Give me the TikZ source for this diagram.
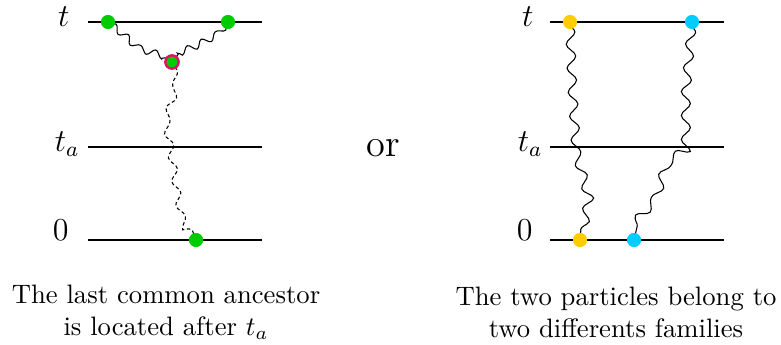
\documentclass[tikz,border=0pt]{standalone}
\usepackage{amsmath,amssymb}
\usepackage{xcolor}
\usepackage{tikz}
\usetikzlibrary{positioning,backgrounds,decorations.pathmorphing}
\definecolor{DOTgreen}{HTML}{00CC00}
\definecolor{DOTyellow}{HTML}{FFCC00}
\definecolor{DOTcyan}{HTML}{00CCFF}
\definecolor{RINGred}{HTML}{DC1464}

\begin{document}
\begin{tikzpicture}[x=0.375pt,y=-0.375pt,
    level/.style={line width=0.75pt},
    lab/.style={anchor=base east,font=\large,inner sep=0pt},
    dot/.style={circle,inner sep=0pt,minimum size=5.3pt},
    gdot/.style={dot,fill=DOTgreen},
    ydot/.style={dot,fill=DOTyellow},
    cdot/.style={dot,fill=DOTcyan},
    anc/.style={circle,inner sep=0pt,minimum size=5pt,fill=DOTgreen,
                draw=RINGred,line width=0.9pt},
    wig/.style={thin,decorate,
                decoration={snake,segment length=6pt,amplitude=1.3pt,
                            pre length=1pt,post length=1pt}},
    longwig/.style={wig,decoration={segment length=9pt,amplitude=1.7pt}},
    dwig/.style={wig,dash pattern=on 1.3pt off 1pt,
                 decoration={segment length=9pt,amplitude=1.4pt,post length=3pt}},
    captxt/.style={align=center,font=\normalsize},
  ]
  \useasboundingbox (0,0) rectangle (781,345);

  % left panel
  \node[lab] (lt)  at (70,27)  {$t$};
  \node[lab] (lta) at (80,152) {$t_a$};
  \node[lab] (l0)  at (69,241) {$0$};
  \node[gdot] (g1) at (108,22) {};
  \node[gdot] (g2) at (228,22) {};
  \node[anc]  (ga) at (172,62) {};
  \node[gdot] (g0) at (196,240) {};

  % right panel
  \node[lab] (rt)  at (534,27)  {$t$};
  \node[lab] (rta) at (543,152) {$t_a$};
  \node[lab] (r0)  at (533,241) {$0$};
  \node[ydot] (y1) at (570,22)  {};
  \node[cdot] (c1) at (692,22)  {};
  \node[ydot] (y0) at (580,240) {};
  \node[cdot] (c0) at (634,240) {};

  \node[font=\Large,anchor=base] (or) at (383,157) {or};

  \begin{scope}[on background layer]
    \foreach \y in {22,147,240} {
      \draw[level] (88,\y) -- (262,\y);
      \draw[level] (550,\y) -- (724,\y);
    }
    \draw[wig] (g1.center) -- (118,30) -- (137,47) -- (157,53) -- (ga.center);
    \draw[wig] (g2.center) -- (218,34) -- (197,45) -- (180,52) -- (ga.center);
    \draw[dwig] (ga.center) -- (176,82) -- (168,110) -- (174,147)
                -- (179,182) -- (184,208) -- (g0.center);
    \draw[longwig] (y1.center) -- (572,80) -- (576,147) -- (588,190)
                   -- (581,228) -- (y0.center);
    \draw[longwig] (c1.center) -- (686,90) -- (686,145) -- (668,158)
                   -- (656,196) -- (640,214) -- (c0.center);
  \end{scope}

  \node[captxt] (lcap) at (166,312) {The last common ancestor\\is located after $t_a$};
  \node[captxt] (rcap) at (616,312) {The two particles belong to\\two differents families};
\end{tikzpicture}
\end{document}
